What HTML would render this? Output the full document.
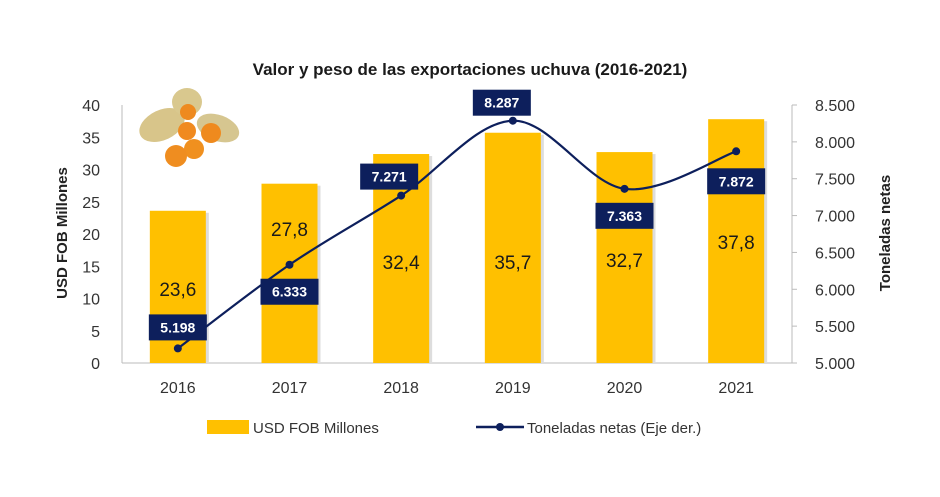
<!DOCTYPE html>
<html><head><meta charset="utf-8"><style>
body{margin:0;background:#fff;}
svg text{font-family:"Liberation Sans",sans-serif;}
</style></head><body>
<svg width="940" height="492" viewBox="0 0 940 492">
<text x="470" y="75" text-anchor="middle" font-size="17" font-weight="bold" fill="#1a1a1a">Valor y peso de las exportaciones uchuva (2016-2021)</text>
<g id="fruit">
<ellipse cx="162" cy="125" rx="24" ry="15" fill="#d8c58a" transform="rotate(-25 162 125)"/>
<ellipse cx="187" cy="102" rx="15" ry="14" fill="#d9c88e"/>
<ellipse cx="218" cy="128" rx="22" ry="13" fill="#d6c690" transform="rotate(20 218 128)"/>
<circle cx="188" cy="112" r="8" fill="#ee8a1f"/>
<circle cx="187" cy="131" r="9" fill="#f08a20"/>
<circle cx="211" cy="133" r="10" fill="#ef8a1e"/>
<circle cx="194" cy="149" r="10" fill="#f0901f"/>
<circle cx="176" cy="156" r="11" fill="#ef8d20"/>
</g>
<g id="axes"></g><g id="bars"></g><g id="line"></g><g id="labels"></g>
<g>
<rect x="207" y="420" width="42" height="14" fill="#ffc000"/>
<text x="253" y="433" font-size="15" fill="#333">USD FOB Millones</text>
<line x1="476" y1="427" x2="524" y2="427" stroke="#0d1f5c" stroke-width="2.5"/>
<circle cx="500" cy="427" r="4" fill="#0d1f5c"/>
<text x="527" y="433" font-size="15" fill="#333">Toneladas netas (Eje der.)</text>
</g>
<text transform="translate(67 233) rotate(-90)" text-anchor="middle" font-size="15" font-weight="bold" fill="#222">USD FOB Millones</text>
<text transform="translate(890 233) rotate(-90)" text-anchor="middle" font-size="15" font-weight="bold" fill="#222">Toneladas netas</text>
</svg>
<script>
const years=["2016","2017","2018","2019","2020","2021"];
const usd=[23.6,27.8,32.4,35.7,32.7,37.8];
const tons=[5198,6333,7271,8287,7363,7872];
const leftTicks=[0,5,10,15,20,25,30,35,40];
const rightTicks=[5000,5500,6000,6500,7000,7500,8000,8500];
const usdLabels=["23,6","27,8","32,4","35,7","32,7","37,8"];
const tonLabels=["5.198","6.333","7.271","8.287","7.363","7.872"];
// layout (not data)
const barLabelY=[289,229,262,262,260,242];
const tonLabelOff=[[0,-21],[0,27],[-12,-19],[-11,-18],[0,27],[0,30]];
const NS="http://www.w3.org/2000/svg";
const X0=122,X1=792,Y0=363,Y1=105;
const band=(X1-X0)/years.length;
const xc=i=>X0+band*(i+0.5);
const yL=v=>Y0-(v-0)/(40-0)*(Y0-Y1);
const yR=v=>Y0-(v-5000)/(8500-5000)*(Y0-Y1);
function mk(tag,attrs,parent){const e=document.createElementNS(NS,tag);for(const k in attrs)e.setAttribute(k,attrs[k]);parent.appendChild(e);return e;}
const ax=document.getElementById('axes');
let e=mk('line',{x1:X0,y1:Y1,x2:X0,y2:Y0,stroke:'#bbb'},ax);


e=mk('line',{x1:X1,y1:Y1,x2:X1,y2:Y0,stroke:'#bbb'},ax);


e=mk('line',{x1:X0,y1:Y0,x2:X1,y2:Y0,stroke:'#bbb'},ax);


leftTicks.forEach(t=>{const el=mk('text',{x:100,y:yL(t)+6,'text-anchor':'end','font-size':16,fill:'#333'},ax);el.textContent=t;

});
rightTicks.forEach(t=>{mk('line',{x1:X1,y1:yR(t),x2:X1+5,y2:yR(t),stroke:'#bbb'},ax);
const el=mk('text',{x:815,y:yR(t)+6,'font-size':16,fill:'#333'},ax);el.textContent=t.toLocaleString('de-DE');

});
years.forEach((y,i)=>{const el=mk('text',{x:xc(i),y:393,'text-anchor':'middle','font-size':16,fill:'#333'},ax);el.textContent=y;

});
const bg=document.getElementById('bars');const lb=document.getElementById('labels');
usd.forEach((v,i)=>{const w=56;
mk('rect',{x:xc(i)-w/2+3,y:yL(v)+2,width:w,height:Y0-yL(v)-2,fill:'#ddd'},bg);
const r=mk('rect',{x:xc(i)-w/2,y:yL(v),width:w,height:Y0-yL(v),fill:'#ffc000'},bg);


const t=mk('text',{x:xc(i),y:barLabelY[i]+7,'text-anchor':'middle','font-size':19,fill:'#1a1a1a'},lb);t.textContent=usdLabels[i];

});
const lg=document.getElementById('line');
const pts=tons.map((v,i)=>[xc(i),yR(v)]);
let d='M'+pts[0][0]+','+pts[0][1];
for(let i=0;i<pts.length-1;i++){const p0=pts[Math.max(0,i-1)],p1=pts[i],p2=pts[i+1],p3=pts[Math.min(pts.length-1,i+2)];
const c1=[p1[0]+(p2[0]-p0[0])/6,p1[1]+(p2[1]-p0[1])/6],c2=[p2[0]-(p3[0]-p1[0])/6,p2[1]-(p3[1]-p1[1])/6];
d+=` C${c1[0]},${c1[1]} ${c2[0]},${c2[1]} ${p2[0]},${p2[1]}`;}
e=mk('path',{d:d,fill:'none',stroke:'#0d1f5c','stroke-width':2.2},lg);


pts.forEach((p,i)=>{const c=mk('circle',{cx:p[0],cy:p[1],r:4,fill:'#0d1f5c'},lg);


const bx=p[0]+tonLabelOff[i][0],by=p[1]+tonLabelOff[i][1];
const r=mk('rect',{x:bx-29,y:by-13,width:58,height:26,fill:'#0d1f5c'},lb);


const t=mk('text',{x:bx,y:by+5,'text-anchor':'middle','font-size':14,'font-weight':'bold',fill:'#fff'},lb);t.textContent=tonLabels[i];

});
</script>
</body></html>
